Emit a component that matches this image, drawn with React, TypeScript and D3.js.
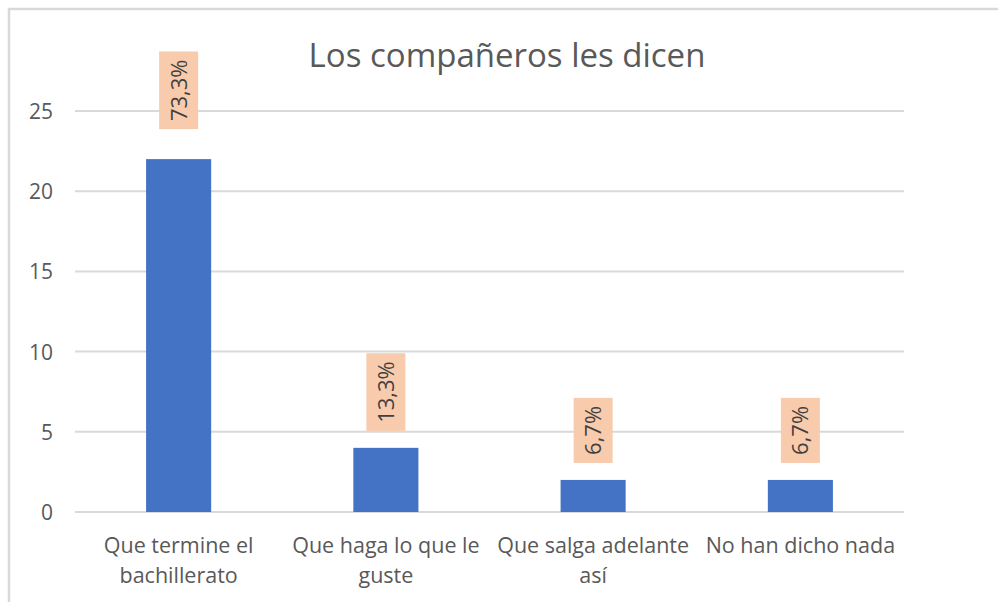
import React, { useEffect, useRef } from "react";
import * as d3 from "d3";

const categories: string[][] = [
  ["Que termine el", "bachillerato"],
  ["Que haga lo que le", "guste"],
  ["Que salga adelante", "así"],
  ["No han dicho nada"],
];
const values: number[] = [22, 4, 2, 2];
const percentLabels: string[] = ["73,3%", "13,3%", "6,7%", "6,7%"];
const yTicks: number[] = [0, 5, 10, 15, 20, 25];
const title = "Los compañeros les dicen";

const W = 998;
const H = 602;
const FONT = "'Open Sans', 'Noto Sans', sans-serif";

export default function App() {
  const ref = useRef<SVGSVGElement | null>(null);

  useEffect(() => {
    const svg = d3.select(ref.current!);
    svg.selectAll("*").remove();

    const left = 75, right = 904, top = 111, bottom = 512;
    const x = d3
      .scaleBand<number>()
      .domain(values.map((_, i) => i))
      .range([left, right])
      .paddingInner(0.686)
      .paddingOuter(0.343);
    const y = d3.scaleLinear().domain([0, 25]).range([bottom, top]);

    svg.append("rect").attr("x", 0).attr("y", 0).attr("width", W).attr("height", H).attr("fill", "#ffffff");
    // chart border (left + top)
    svg.append("path").attr("d", `M9,602 L9,9 L998,9`).attr("fill", "none").attr("stroke", "#d9d9d9").attr("stroke-width", 2.5);

    // title
    svg.append("text")
      .attr("x", 507).attr("y", 67)
      .attr("text-anchor", "middle")
      .attr("font-family", FONT).attr("font-size", 33)
      .attr("fill", "#595959")
      .text(title);

    // gridlines
    svg.append("g").selectAll("line").data(yTicks).join("line")
      .attr("x1", left).attr("x2", right)
      .attr("y1", (d) => y(d)).attr("y2", (d) => y(d))
      .attr("stroke", "#d9d9d9").attr("stroke-width", 2);

    // y tick labels
    svg.append("g").selectAll("text").data(yTicks).join("text")
      .attr("x", 53).attr("y", (d) => y(d) + 8)
      .attr("text-anchor", "end")
      .attr("font-family", FONT).attr("font-size", 21)
      .attr("fill", "#595959")
      .text((d) => String(d));

    // bars
    svg.append("g").selectAll("rect").data(values).join("rect")
      .attr("x", (_, i) => x(i)!)
      .attr("y", (d) => y(d))
      .attr("width", x.bandwidth())
      .attr("height", (d) => y(0) - y(d))
      .attr("fill", "#4472c4");

    // category labels
    const cat = svg.append("g");
    categories.forEach((lines, i) => {
      const cx = x(i)! + x.bandwidth() / 2;
      const t = cat.append("text")
        .attr("text-anchor", "middle")
        .attr("font-family", FONT).attr("font-size", 21.5)
        .attr("fill", "#595959");
      lines.forEach((ln, j) => {
        t.append("tspan").attr("x", cx).attr("y", 553 + j * 30).text(ln);
      });
    });

    // data labels
    const lab = svg.append("g");
    values.forEach((v, i) => {
      const cx = x(i)! + x.bandwidth() / 2;
      const gap = i === 0 ? 30 : 17;
      const g = lab.append("g");
      const rect = g.append("rect").attr("fill", "#f8cbad");
      const txt = g.append("text")
        .attr("font-family", FONT).attr("font-size", 22)
        .attr("fill", "#404040")
        .attr("text-anchor", "middle")
        .text(percentLabels[i]);
      const len = (txt.node() as SVGTextElement).getComputedTextLength();
      const bh = len + 16;
      const bw = 39;
      const boxBottom = y(v) - gap;
      const boxTop = boxBottom - bh;
      rect.attr("x", cx - bw / 2).attr("y", boxTop).attr("width", bw).attr("height", bh);
      const cy = boxTop + bh / 2;
      txt.attr("transform", `translate(${cx + 8},${cy}) rotate(-90)`);
    });
  }, []);

  return (
    <svg
      ref={ref}
      width={W}
      height={H}
      style={{ position: "absolute", left: 0, top: 0, display: "block" }}
    />
  );
}
